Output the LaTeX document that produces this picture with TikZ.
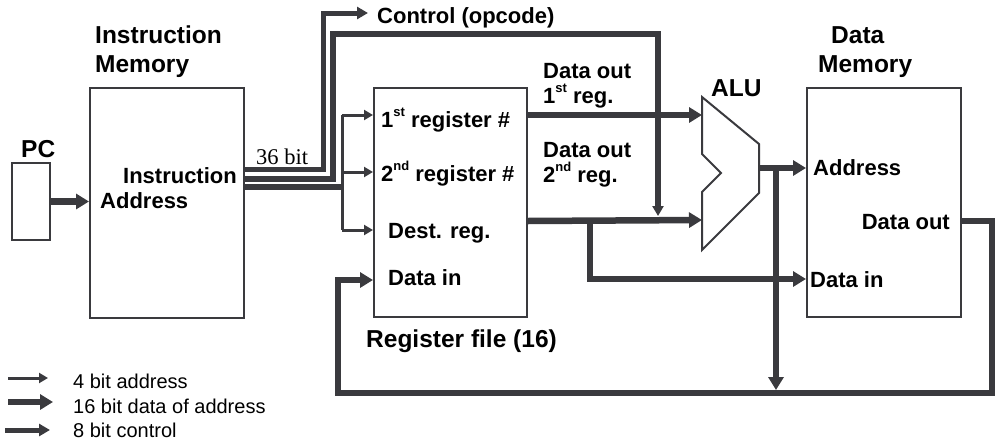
\documentclass[tikz,border=0pt]{standalone}
\usepackage{fontspec}
\setmainfont{Liberation Sans}
\newfontfamily\bitfont{Liberation Serif}
\usetikzlibrary{arrows.meta}
\definecolor{wire}{RGB}{58,58,62}
\newcommand{\sups}[1]{\raisebox{0.5em}{\fontsize{13}{13}\selectfont #1}}
\begin{document}
\begin{tikzpicture}[x=1pt,y=-1pt,
  box/.style={draw=wire, line width=2pt, inner sep=0pt},
  bus/.style={draw=wire, line width=6.5pt},
  busarrow/.style={bus, -{Triangle[length=13pt,width=15pt]}},
  ctrl/.style={draw=wire, line width=5pt},
  ctrlarrow/.style={ctrl, -{Triangle[length=11pt,width=12pt]}},
  addrline/.style={draw=wire, line width=3pt},
  addr/.style={addrline, -{Triangle[length=9pt,width=10pt]}},
  title/.style={font=\bfseries\fontsize{24.5}{28}\selectfont, inner sep=0pt, anchor=base west},
  lbl/.style={font=\bfseries\fontsize{22}{26}\selectfont, inner sep=0pt, anchor=base west},
  legendtext/.style={font=\fontsize{20}{24}\selectfont, inner sep=0pt, anchor=base west}]

\useasboundingbox (0,0) rectangle (996,442);

% horizontal levels used by the wires
\coordinate (yR1) at (0,115);
\coordinate (yR2) at (0,172);
\coordinate (yRd) at (0,230);
\coordinate (yDin) at (0,280);
\coordinate (yOut2) at (0,221);
\coordinate (yMemIn) at (0,279);
\coordinate (yCtl) at (0,169);
\coordinate (yImm) at (0,179);
\coordinate (yReg) at (0,187);

% blocks
\node[box, minimum width=38pt, minimum height=77pt] (pc) at (31,201.5) {};
\node[box, minimum width=154pt, minimum height=230pt] (imem) at (167,203) {};
\node[box, minimum width=153pt, minimum height=229pt] (reg) at (450.5,202.5) {};
\node[box, minimum width=154pt, minimum height=229pt] (dmem) at (884,202.5) {};

% ALU outline and its ports
\coordinate (alu1) at (702,115);
\coordinate (alu2) at (702,220);
\coordinate (aluout) at (759,168);
\coordinate (ctl) at (368,13);
\coordinate (imm) at (658,216);

% PC into the instruction memory
\draw[busarrow] (pc.east) -- (imem.west |- pc.east);

% instruction word split into fields
\draw[ctrlarrow] (imem.east |- yCtl) -| (323,13) -- (ctl);
\draw[bus, -{Triangle[length=10pt,width=11pt]}] (imem.east |- yImm) -| (333,34) -| (imm);
\draw[bus] (imem.east |- yReg) -- (342,187);
\draw[addrline] (342,115) -- (342,230);
\draw[addr] (342,115) -- (reg.west |- yR1);
\draw[addr] (342,172) -- (reg.west |- yR2);
\draw[addr] (342,230) -- (reg.west |- yRd);

% register outputs into the ALU and the data memory
\draw[busarrow] (reg.east |- yR1) -- (alu1);
\draw[busarrow] (reg.east |- yOut2) -- (alu2);
\draw[busarrow] (590,221) |- (dmem.west |- yMemIn);

% ALU result
\draw[busarrow] (aluout) -- (dmem.west |- aluout);
\draw[busarrow] (776,168) -- (776,390);

% write-back loop to the register file
\draw[busarrow] (dmem.east |- yOut2) -| (992,393) -| (338,280) -- (reg.west |- yDin);

\draw[box, fill=white] (702,97) -- (759,144) -- (759,193) -- (702,250) -- (702,192) -- (721,173) -- (702,154) -- cycle;

% labels
\node[title] (t-im1) at (95,43) {Instruction};
\node[title] (t-im2) at (95,72) {Memory};
\node[title] (t-dm1) at (831,43) {Data};
\node[title] (t-dm2) at (818,72) {Memory};
\node[title] (t-rf) at (366,347) {Register file (16)};
\node[title] (t-pc) at (21,157) {PC};
\node[title] (t-alu) at (711,96) {ALU};

\node[lbl, anchor=base east] (l-ins) at (237,183) {Instruction};
\node[lbl] (l-ia) at (100,208) {Address};
\node[inner sep=0pt, anchor=base west, font=\bitfont\fontsize{22.5}{26}\selectfont] (l-36) at (256,164) {36 bit};
\node[lbl] (l-ctl) at (377,23) {Control (opcode)};

\node[lbl] (l-r1) at (381,127) {1\sups{st} register \#};
\node[lbl] (l-r2) at (381,181) {2\sups{nd} register \#};
\node[lbl] (l-rd) at (388,238) {Dest. reg.};
\node[lbl] (l-rin) at (388,285) {Data in};

\node[lbl] (l-o1a) at (543,78) {Data out};
\node[lbl] (l-o1b) at (543,103) {1\sups{st} reg.};
\node[lbl] (l-o2a) at (543,157) {Data out};
\node[lbl] (l-o2b) at (543,182) {2\sups{nd} reg.};

\node[lbl] (l-da) at (813,175) {Address};
\node[lbl, anchor=base east] (l-dout) at (950,229) {Data out};
\node[lbl] (l-din) at (810,287) {Data in};

% legend
\draw[addr] (8,378) -- (48,378);
\draw[busarrow] (8,402) -- (53,402);
\draw[ctrlarrow] (5,430) -- (50,430);
\node[legendtext] (lg1) at (73,388) {4 bit address};
\node[legendtext] (lg2) at (73,413) {16 bit data of address};
\node[legendtext] (lg3) at (73,437) {8 bit control};
\end{tikzpicture}
\end{document}
